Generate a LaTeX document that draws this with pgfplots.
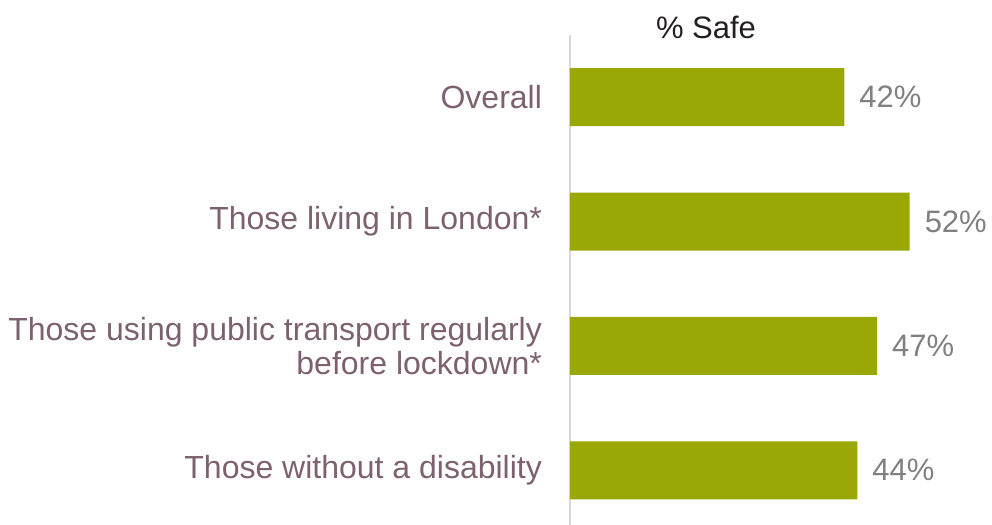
\documentclass[border=0pt]{standalone}
\usepackage{fontspec}
\setmainfont{Liberation Sans}
\usepackage{pgfplots}
\pgfplotsset{compat=1.18}
\definecolor{barolive}{HTML}{9AA806}
\definecolor{labelmauve}{HTML}{7D6170}
\definecolor{valgray}{HTML}{808080}
\definecolor{titledark}{HTML}{231F20}
\definecolor{axisgray}{HTML}{D9D9D9}

\begin{document}
\begin{tikzpicture}
% page = 992 x 525 px at 0.5pt per px
\useasboundingbox (0,0) rectangle (496pt,262.5pt);
\begin{axis}[
    at={(285pt,0pt)}, anchor=south west,
    scale only axis,
    width=211pt, height=245pt,
    xbar, bar width=0.466,
    xmin=0, xmax=64.6,
    ymin=-0.44, ymax=3.5,
    axis x line=none,
    axis y line=left,
    y axis line style={-, draw=axisgray, line width=0.8pt},
    xtick=\empty,
    ytick={0,1,2,3},
    yticklabels={Those without a disability, Those using public transport regularly\\before lockdown*, Those living in London*, Overall},
    major tick length=0pt,
    yticklabel style={font=\fontsize{16}{17}\selectfont, text=labelmauve, align=right, xshift=-10.5pt},
    /pgf/number format/assume math mode=true,
    nodes near coords={\pgfmathprintnumber{\pgfplotspointmeta}\%},
    every node near coord/.append style={font=\fontsize{15.5}{17}\selectfont, text=valgray, anchor=west, xshift=4pt},
    clip=false,
]
\addplot[draw=none, fill=barolive] coordinates {(44,0) (47,1) (52,2) (42,3)};
\end{axis}
\node[font=\fontsize{15.5}{17}\selectfont, text=titledark] at (353pt,249pt) {\% Safe};
\end{tikzpicture}
\end{document}
